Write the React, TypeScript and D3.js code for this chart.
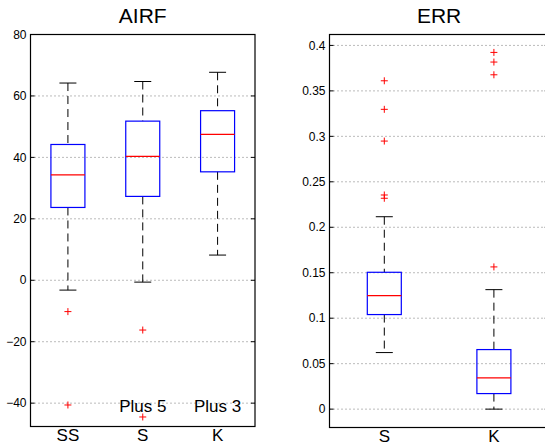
import React from "react";
import * as d3 from "d3";

// AIRF panel
const airfCategories = ["SS", "S", "K"];
const airfLowerWhisker = [-3.2, -0.6, 8.2];
const airfQ1 = [23.7, 27.3, 35.3];
const airfMedian = [34.3, 40.3, 47.5];
const airfQ3 = [44.2, 51.8, 55.2];
const airfUpperWhisker = [64.2, 64.7, 67.7];
const airfOutliers = [[-10.2, -40.6], [-16.2, -44.5], []];
const airfNotes = ["", "Plus 5", "Plus 3"];
const airfTicks = [-40, -20, 0, 20, 40, 60, 80];

// ERR panel
const errCategories = ["S", "K"];
const errLowerWhisker = [0.0622, 0.0];
const errQ1 = [0.104, 0.0171];
const errMedian = [0.1248, 0.0344];
const errQ3 = [0.1505, 0.0655];
const errUpperWhisker = [0.2116, 0.1314];
const errOutliers = [
  [0.3611, 0.3297, 0.2948, 0.2355, 0.2319],
  [0.3923, 0.3817, 0.3677, 0.1564],
];
const errNotes = ["", ""];
const errTicks = [0, 0.05, 0.1, 0.15, 0.2, 0.25, 0.3, 0.35, 0.4];

const FONT = "'Liberation Sans', Arial, sans-serif";

type PanelProps = {
  title: string;
  left: number;
  right: number;
  top: number;
  bottom: number;
  domain: [number, number];
  categories: string[];
  lo: number[];
  q1: number[];
  med: number[];
  q3: number[];
  hi: number[];
  outliers: number[][];
  notes: string[];
  ticks: number[];
  fmt: (v: number) => string;
};

function Panel(p: PanelProps) {
  const x = d3
    .scaleLinear()
    .domain([0.5, p.categories.length + 0.5])
    .range([p.left, p.right]);
  const y = d3.scaleLinear().domain(p.domain).range([p.bottom, p.top]);
  const boxW = 34;
  const capW = 17;
  const plus = 3.5;
  return (
    <g>
      <text
        x={(p.left + p.right) / 2}
        y={23}
        textAnchor="middle"
        fontFamily={FONT}
        fontSize={21}
      >
        {p.title}
      </text>
      {p.ticks.map((t) => (
        <g key={"t" + t}>
          <line
            x1={p.left}
            x2={p.right}
            y1={y(t)}
            y2={y(t)}
            stroke="#777"
            strokeWidth={1}
            strokeDasharray="1,3"
          />
          <line x1={p.left} x2={p.left + 4} y1={y(t)} y2={y(t)} stroke="#000" />
          <line x1={p.right - 4} x2={p.right} y1={y(t)} y2={y(t)} stroke="#000" />
          <text
            x={p.left - 4}
            y={y(t)}
            dy="0.35em"
            textAnchor="end"
            fontFamily={FONT}
            fontSize={12}
          >
            {p.fmt(t)}
          </text>
        </g>
      ))}
      {p.categories.map((c, i) => {
        const cx = x(i + 1);
        return (
          <g key={c}>
            <line
              x1={cx}
              x2={cx}
              y1={y(p.hi[i])}
              y2={y(p.q3[i])}
              stroke="#000"
              strokeDasharray="8,5"
            />
            <line
              x1={cx}
              x2={cx}
              y1={y(p.q1[i])}
              y2={y(p.lo[i])}
              stroke="#000"
              strokeDasharray="8,5"
            />
            <line x1={cx - capW / 2} x2={cx + capW / 2} y1={y(p.hi[i])} y2={y(p.hi[i])} stroke="#000" />
            <line x1={cx - capW / 2} x2={cx + capW / 2} y1={y(p.lo[i])} y2={y(p.lo[i])} stroke="#000" />
            <rect
              x={cx - boxW / 2}
              y={y(p.q3[i])}
              width={boxW}
              height={y(p.q1[i]) - y(p.q3[i])}
              fill="none"
              stroke="#0000ff"
              strokeWidth={1.2}
            />
            <line
              x1={cx - boxW / 2}
              x2={cx + boxW / 2}
              y1={y(p.med[i])}
              y2={y(p.med[i])}
              stroke="#ff0000"
              strokeWidth={1.2}
            />
            {p.outliers[i].map((o, j) => (
              <path
                key={j}
                d={`M${cx - plus},${y(o)}H${cx + plus}M${cx},${y(o) - plus}V${y(o) + plus}`}
                stroke="#ff0000"
                strokeWidth={1}
                fill="none"
              />
            ))}
            {p.notes[i] && (
              <text
                x={cx}
                y={p.bottom - 15}
                textAnchor="middle"
                fontFamily={FONT}
                fontSize={17}
              >
                {p.notes[i]}
              </text>
            )}
            <text
              x={cx}
              y={p.bottom + 14}
              textAnchor="middle"
              fontFamily={FONT}
              fontSize={17}
            >
              {c}
            </text>
          </g>
        );
      })}
      <rect
        x={p.left}
        y={p.top}
        width={p.right - p.left}
        height={p.bottom - p.top}
        fill="none"
        stroke="#000"
        strokeWidth={1.2}
      />
    </g>
  );
}

export default function App() {
  return (
    <svg
      width={545}
      height={445}
      style={{ position: "absolute", left: 0, top: 0, background: "#fff" }}
    >
      <Panel
        title="AIRF"
        left={30.5}
        right={255}
        top={34.5}
        bottom={426.5}
        domain={[-47.6, 80]}
        categories={airfCategories}
        lo={airfLowerWhisker}
        q1={airfQ1}
        med={airfMedian}
        q3={airfQ3}
        hi={airfUpperWhisker}
        outliers={airfOutliers}
        notes={airfNotes}
        ticks={airfTicks}
        fmt={(v) => (v < 0 ? "\u2212" + Math.abs(v) : String(v))}
      />
      <Panel
        title="ERR"
        left={329.5}
        right={548.7}
        top={34.5}
        bottom={427.5}
        domain={[-0.0202, 0.412]}
        categories={errCategories}
        lo={errLowerWhisker}
        q1={errQ1}
        med={errMedian}
        q3={errQ3}
        hi={errUpperWhisker}
        outliers={errOutliers}
        notes={errNotes}
        ticks={errTicks}
        fmt={(v) => String(+v.toFixed(2))}
      />
    </svg>
  );
}
